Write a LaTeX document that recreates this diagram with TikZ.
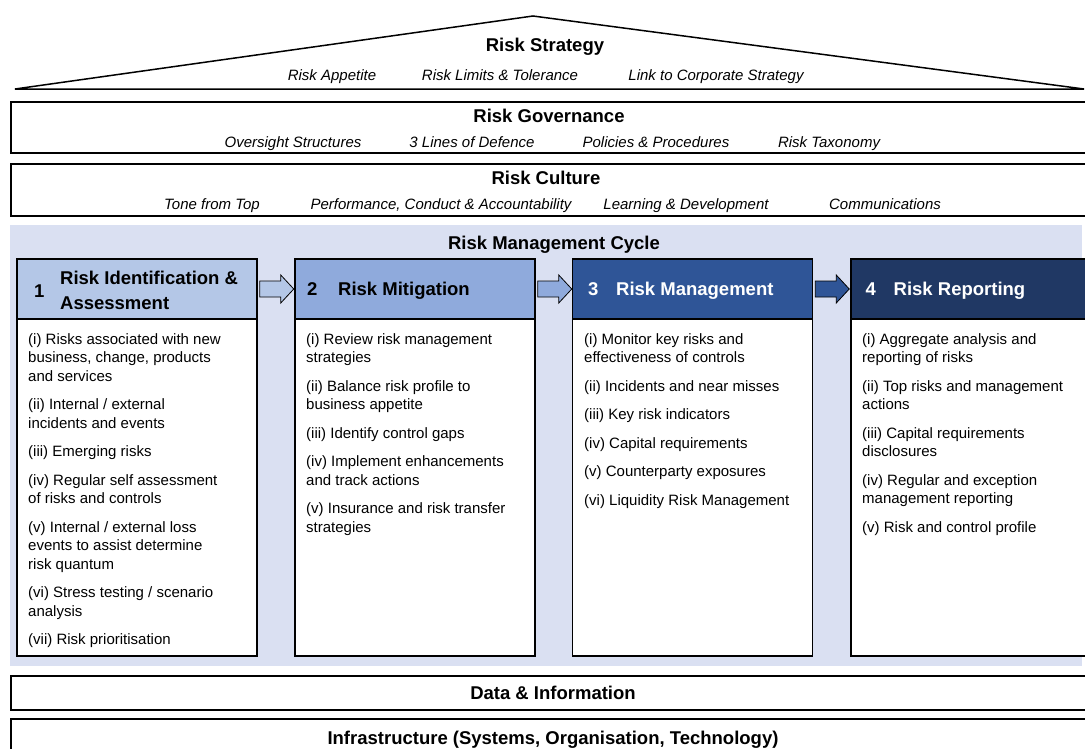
\documentclass[tikz,border=0pt]{standalone}
\usepackage{fontspec}
\setmainfont{Liberation Sans}
\usetikzlibrary{calc}
\definecolor{bgblue}{RGB}{218,224,242}
\definecolor{hone}{RGB}{180,199,231}
\definecolor{htwo}{RGB}{143,170,220}
\definecolor{hthree}{RGB}{47,85,151}
\definecolor{hfour}{RGB}{32,56,100}
\begin{document}
\begin{tikzpicture}[x=1pt,y=-1pt,
  band/.style={draw=black, line width=2pt, fill=white, inner sep=0pt},
  hdr/.style={draw=black, line width=1.5pt, inner sep=0pt, minimum width=240, minimum height=60},
  bodybox/.style={draw=black, line width=1.5pt, fill=white, inner sep=0pt, minimum width=240, minimum height=337},
  ttl/.style={font=\fontsize{18.5}{22}\selectfont\bfseries, anchor=base, inner sep=0pt},
  itl/.style={font=\fontsize{15}{18}\selectfont\itshape, anchor=base, inner sep=0pt},
  htxt/.style={font=\fontsize{18.5}{24}\selectfont\bfseries, anchor=base west, inner sep=0pt},
  hblk/.style={font=\fontsize{18.5}{25}\selectfont\bfseries, anchor=west, inner sep=0pt, align=left},
  btxt/.style={font=\fontsize{15}{18.5}\selectfont, anchor=north west, inner sep=0pt, align=left},
  blockarrow/.style={draw=black, line width=0.8pt, line join=miter},
]
\clip (0,0) rectangle (1085,748);
\fill[white] (0,0) rectangle (1085,748);

% roof: Risk Strategy
\coordinate (apex) at (533,16);
\coordinate (tl) at (15,89);
\coordinate (tr) at (1084,89);
\draw[line width=1.5pt, line join=miter] (tl) -- (apex) -- (tr) -- cycle;
\node[ttl] (tstrat) at (545,51) {Risk Strategy};
\node[itl] (s1) at (332,80) {Risk Appetite};
\node[itl] (s2) at (500,80) {Risk Limits \& Tolerance};
\node[itl] (s3) at (716,80) {Link to Corporate Strategy};

% Risk Governance
\node[band, minimum width=1090, minimum height=51] (gov) at (556,127.5) {};
\node[ttl] (tgov) at (549,122) {Risk Governance};
\node[itl] (g1) at (293,147) {Oversight Structures};
\node[itl] (g2) at (472,147) {3 Lines of Defence};
\node[itl] (g3) at (656,147) {Policies \& Procedures};
\node[itl] (g4) at (829,147) {Risk Taxonomy};

% Risk Culture
\node[band, minimum width=1090, minimum height=52] (cult) at (556,190) {};
\node[ttl] (tcult) at (546,184) {Risk Culture};
\node[itl] (c1) at (212,209) {Tone from Top};
\node[itl] (c2) at (441,209) {Performance, Conduct \& Accountability};
\node[itl] (c3) at (686,209) {Learning \& Development};
\node[itl] (c4) at (885,209) {Communications};

% Risk Management Cycle
\node[fill=bgblue, inner sep=0pt, minimum width=1072, minimum height=441] (cyc) at (546,445.5) {};
\node[ttl] (tcyc) at (554,249) {Risk Management Cycle};

\node[bodybox] (b1) at (137,487.5) {};
\node[bodybox] (b2) at (415,487.5) {};
\node[bodybox] (b3) at (692.5,487.5) {};
\node[bodybox] (b4) at (971,487.5) {};
\node[hdr, fill=hone] (h1) at (137,289) {};
\node[hdr, fill=htwo] (h2) at (415,289) {};
\node[hdr, fill=hthree] (h3) at (692.5,289) {};
\node[hdr, fill=hfour] (h4) at (971,289) {};

\node[htxt] (n1) at (34,297) {1};
\node[hblk] (t1) at (60,290.5) {Risk Identification \&\\Assessment};
\node[htxt] (n2) at (307,295.5) {2};
\node[htxt] (t2) at (338,295.5) {Risk Mitigation};
\node[htxt, text=white] (n3) at (588,295.5) {3};
\node[htxt, text=white] (t3) at (616,295.5) {Risk Management};
\node[htxt, text=white] (n4) at (865.5,295.5) {4};
\node[htxt, text=white] (t4) at (893.5,295.5) {Risk Reporting};

% block arrows between stages
\draw[blockarrow, fill=hone] ($(h1.east)+(2,-8)$) -- ++(21,0) -- ++(0,-6) -- ($(h1.east)+(36,0)$) -- ($(h1.east)+(23,14)$) -- ++(0,-6) -- ++(-21,0) -- cycle;
\draw[blockarrow, fill=htwo] ($(h2.east)+(2,-8)$) -- ++(21,0) -- ++(0,-6) -- ($(h2.east)+(36,0)$) -- ($(h2.east)+(23,14)$) -- ++(0,-6) -- ++(-21,0) -- cycle;
\draw[blockarrow, fill=hthree] ($(h3.east)+(2,-8)$) -- ++(21,0) -- ++(0,-6) -- ($(h3.east)+(36,0)$) -- ($(h3.east)+(23,14)$) -- ++(0,-6) -- ++(-21,0) -- cycle;

% body texts
\node[btxt] (l1) at (28,332) {\rule{0pt}{12pt}(i) Risks associated with new\\business, change, products\\and services\\[10pt]
(ii) Internal / external\\incidents and events\\[10pt]
(iii) Emerging risks\\[10pt]
(iv) Regular self assessment\\of risks and controls\\[10pt]
(v) Internal / external loss\\events to assist determine\\risk quantum\\[10pt]
(vi) Stress testing / scenario\\analysis\\[10pt]
(vii) Risk prioritisation};
\node[btxt] (l2) at (306,332) {\rule{0pt}{12pt}(i) Review risk management\\strategies\\[10pt]
(ii) Balance risk profile to\\business appetite\\[10pt]
(iii) Identify control gaps\\[10pt]
(iv) Implement enhancements\\and track actions\\[10pt]
(v) Insurance and risk transfer\\strategies};
\node[btxt] (l3) at (584,332) {\rule{0pt}{12pt}(i) Monitor key risks and\\effectiveness of controls\\[10pt]
(ii) Incidents and near misses\\[10pt]
(iii) Key risk indicators\\[10pt]
(iv) Capital requirements\\[10pt]
(v) Counterparty exposures\\[10pt]
(vi) Liquidity Risk Management};
\node[btxt] (l4) at (862,332) {\rule{0pt}{12pt}(i) Aggregate analysis and\\reporting of risks\\[10pt]
(ii) Top risks and management\\actions\\[10pt]
(iii) Capital requirements\\disclosures\\[10pt]
(iv) Regular and exception\\management reporting\\[10pt]
(v) Risk and control profile};

% foundations
\node[band, minimum width=1090, minimum height=34] (data) at (556,693) {};
\node[ttl] (tdata) at (553,699) {Data \& Information};
\node[band, minimum width=1090, minimum height=61] (infra) at (556,749.5) {};
\node[ttl] (tinfra) at (553,744) {Infrastructure (Systems, Organisation, Technology)};
\end{tikzpicture}
\end{document}
